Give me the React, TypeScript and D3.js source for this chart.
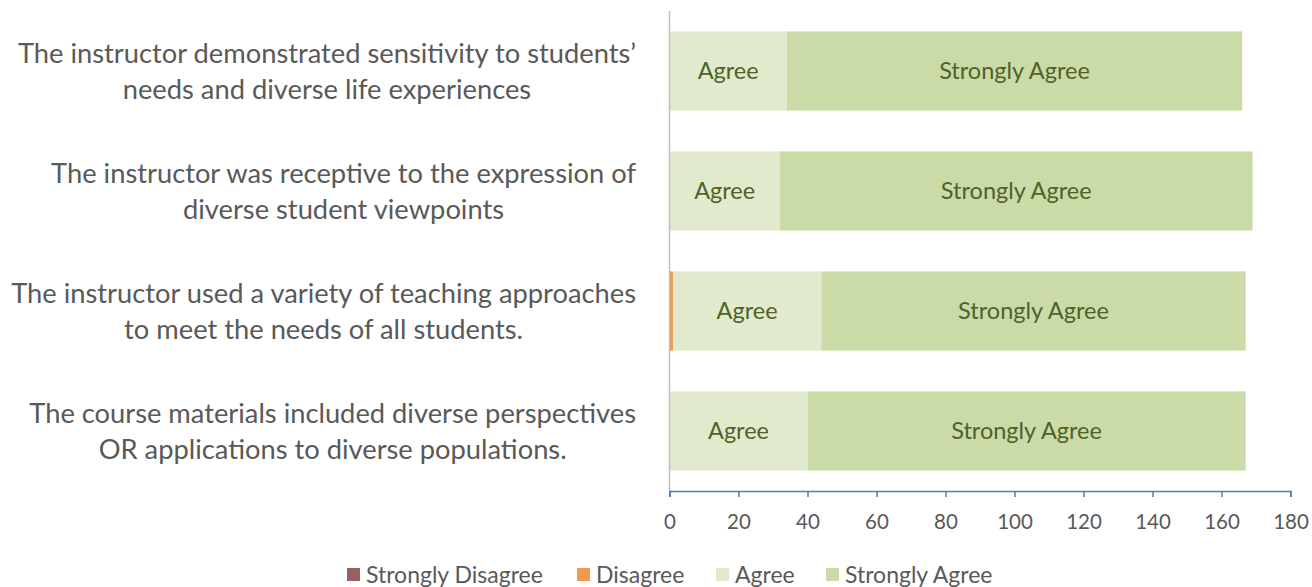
import React, { useEffect, useRef } from "react";
import * as d3 from "d3";

const categories = [
  ["The instructor demonstrated sensitivity to students’", "needs and diverse life experiences"],
  ["The instructor was receptive to the expression of", "diverse student viewpoints"],
  ["The instructor used a variety of teaching approaches", "to meet the needs of all students."],
  ["The course materials included diverse perspectives", "OR applications to diverse populations."],
];
const seriesNames = ["Strongly Disagree", "Disagree", "Agree", "Strongly Agree"];
const stronglyDisagree = [0, 0, 0, 0];
const disagree = [0, 0, 1, 0];
const agree = [34, 32, 43, 40];
const stronglyAgree = [132, 137, 123, 127];
const xTicks = [0, 20, 40, 60, 80, 100, 120, 140, 160, 180];
const colors = ["#976161", "#F0994F", "#E1EACD", "#CBDBA8"];

const W = 1312;
const H = 587;
const FONT = "Lato, 'Open Sans', sans-serif";

export default function App() {
  const ref = useRef<SVGSVGElement>(null);
  useEffect(() => {
    document.body.style.margin = "0";
    const svg = d3.select(ref.current);
    svg.selectAll("*").remove();

    const keys = categories.map((c) => c.join(" "));
    const rows = keys.map((k, i) => ({
      key: k,
      "Strongly Disagree": stronglyDisagree[i],
      Disagree: disagree[i],
      Agree: agree[i],
      "Strongly Agree": stronglyAgree[i],
    }));
    const stack = d3.stack<any>().keys(seriesNames)(rows);

    const x = d3.scaleLinear().domain([0, 180]).range([669.5, 1290.5]);
    const y = d3.scaleBand().domain(keys).range([11, 491]).paddingInner(0.34).paddingOuter(0.17);

    // bars
    const g = svg.append("g");
    stack.forEach((layer, si) => {
      layer.forEach((d, i) => {
        const w = x(d[1]) - x(d[0]);
        if (w <= 0) return;
        g.append("rect")
          .attr("x", x(d[0]))
          .attr("y", y(keys[i])!)
          .attr("width", w)
          .attr("height", y.bandwidth())
          .attr("fill", colors[si]);
        if (d[1] - d[0] >= 5) {
          g.append("text")
            .attr("x", (x(d[0]) + x(d[1])) / 2)
            .attr("y", y(keys[i])! + y.bandwidth() / 2)
            .attr("dy", "0.35em")
            .attr("text-anchor", "middle")
            .attr("font-family", FONT)
            .attr("font-size", 23.5)
            .attr("fill", "#4F6228")
            .text(seriesNames[si]);
        }
      });
    });

    // vertical axis line
    svg.append("line")
      .attr("x1", 669.5).attr("x2", 669.5)
      .attr("y1", 11).attr("y2", 491)
      .attr("stroke", "#BFBFBF").attr("stroke-width", 1.5);

    // x axis
    const xa = svg.append("g").attr("transform", "translate(0,491)")
      .call(d3.axisBottom(x).tickValues(xTicks).tickSize(6).tickPadding(17).tickSizeOuter(6));
    xa.select(".domain").attr("stroke", "#4A7EBB").attr("stroke-width", 1.5);
    xa.selectAll(".tick line").attr("stroke", "#4A7EBB").attr("stroke-width", 1.5);
    xa.selectAll(".tick text")
      .attr("font-family", FONT).attr("font-size", 20.5).attr("fill", "#595959");

    // category labels
    categories.forEach((lines, i) => {
      const t = svg.append("text")
        .attr("font-family", FONT)
        .attr("font-size", 27.3)
        .attr("fill", "#595959")
        .attr("text-anchor", "middle");
      const cy = y(keys[i])! + y.bandwidth() / 2;
      const spans = lines.map((ln, j) =>
        t.append("tspan").attr("y", cy + (j - 0.5) * 36).attr("dy", "0.35em").text(ln)
      );
      let maxW = 0;
      spans.forEach((s) => {
        const n = s.node() as SVGTSpanElement;
        maxW = Math.max(maxW, n.getComputedTextLength());
      });
      const cx = 636 - maxW / 2;
      spans.forEach((s) => s.attr("x", cx));
    });

    // legend
    const legendX = [347, 577, 716, 826];
    seriesNames.forEach((name, i) => {
      const lg = svg.append("g").attr("transform", `translate(${legendX[i]},575)`);
      lg.append("rect").attr("x", 0).attr("y", -7).attr("width", 13).attr("height", 13).attr("fill", colors[i]);
      lg.append("text")
        .attr("x", 19).attr("dy", "0.35em")
        .attr("font-family", FONT).attr("font-size", 23).attr("fill", "#595959")
        .text(name);
    });
  }, []);
  return <svg ref={ref} width={W} height={H} style={{ display: "block" }} />;
}
